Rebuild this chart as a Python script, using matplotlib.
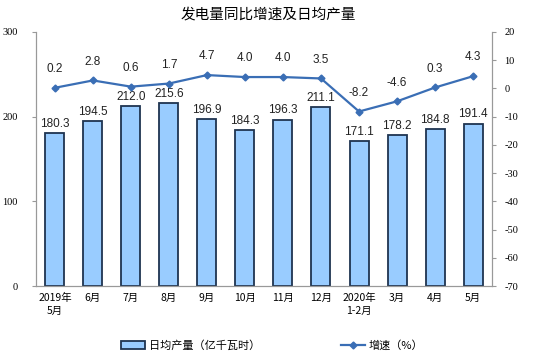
import matplotlib.pyplot as plt
from matplotlib.lines import Line2D
from matplotlib.patches import Patch

cjk = ['Noto Sans CJK SC', 'DejaVu Sans']
plt.rcParams['font.family'] = cjk

months = ['2019年\n5月', '6月', '7月', '8月', '9月', '10月', '11月', '12月',
          '2020年\n1-2月', '3月', '4月', '5月']
daily_output = [180.3, 194.5, 212.0, 215.6, 196.9, 184.3, 196.3, 211.1,
                171.1, 178.2, 184.8, 191.4]
growth = [0.2, 2.8, 0.6, 1.7, 4.7, 4.0, 4.0, 3.5, -8.2, -4.6, 0.3, 4.3]
left_ticks = [0, 100, 200, 300]
right_ticks = list(range(-70, 21, 10))

fig = plt.figure(figsize=(5.36, 3.58), dpi=100)
ax1 = fig.add_axes([0.067, 0.201, 0.851, 0.710])
ax2 = ax1.twinx()

x = list(range(len(months)))
ax1.bar(x, daily_output, width=0.5, color='#99CCFF', edgecolor='#1F3450', linewidth=1.3)
for xi, v in zip(x, daily_output):
    ax1.text(xi, v + 4, f'{v:.1f}', ha='center', va='bottom', fontsize=8.5,
             family='Liberation Sans', color='#222222')

ax2.plot(x, growth, color='#3A6EB5', linewidth=1.6, marker='D', markersize=3.5)
for xi, v in zip(x, growth):
    ax2.text(xi, v + 4.5, f'{v:.1f}', ha='center', va='bottom', fontsize=8.5,
             family='Liberation Sans', color='#222222')

ax1.set_xlim(-0.5, len(months) - 0.5)
ax1.set_ylim(0, 300)
ax2.set_ylim(-70, 20)
ax1.set_yticks(left_ticks, labels=[str(t) for t in left_ticks],
               fontfamily='Liberation Serif', fontsize=7.5)
ax2.set_yticks(right_ticks, labels=[str(t) for t in right_ticks],
               fontfamily='Liberation Serif', fontsize=7.5)
ax1.set_xticks(x)
ax1.set_xticklabels(months, fontsize=7.5, linespacing=1.4)

for ax in (ax1, ax2):
    ax.spines['top'].set_visible(False)
    for s in ('left', 'right', 'bottom'):
        ax.spines[s].set_color('#999999')
    ax.tick_params(length=3, color='#999999')
ax1.tick_params(axis='x', length=0, pad=5)
ax1.tick_params(axis='y', pad=10)
ax2.tick_params(axis='y', pad=6)

fig.text(0.5, 0.96, '发电量同比增速及日均产量', ha='center', va='center', fontsize=10.5)

handles = [Patch(facecolor='#99CCFF', edgecolor='#1F3450', linewidth=1.3),
           Line2D([], [], color='#3A6EB5', linewidth=1.6, marker='D', markersize=3.5)]
fig.legend(handles, ['日均产量（亿千瓦时）', '增速（%）'], loc='center',
           bbox_to_anchor=(0.5075, 0.035), ncol=2, frameon=False, fontsize=8,
           columnspacing=7.3, handlelength=2.2, handletextpad=0.3)

fig.savefig('out.png', dpi=100)
